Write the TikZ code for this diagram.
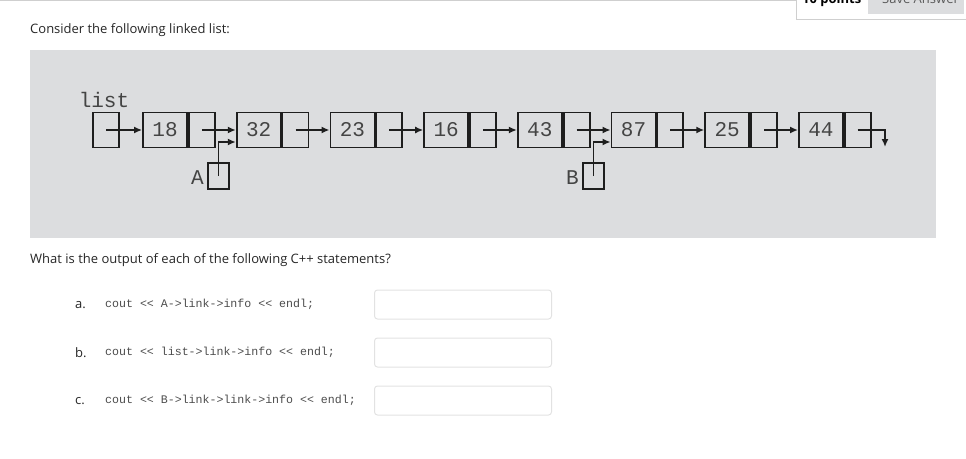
\documentclass[tikz,border=0pt]{standalone}
\usepackage{fontspec}
\setmainfont{Open Sans}
\newfontfamily\diagfont{Liberation Mono}
\usetikzlibrary{arrows.meta,positioning}
\definecolor{panel}{HTML}{DCDDDF}
\definecolor{ink}{HTML}{1E1E1E}
\definecolor{txtgray}{HTML}{444444}
\definecolor{boxline}{HTML}{E2E2E2}
\definecolor{hdrline}{HTML}{CFCFCF}
\tikzset{
  datacell/.style={draw=ink, line width=1.8pt, minimum width=44pt, minimum height=35pt, inner sep=0pt,
    font=\diagfont\fontsize{21}{21}\selectfont, text=txtgray},
  ptrcell/.style={draw=ink, line width=1.8pt, minimum width=26pt, minimum height=35pt, inner sep=0pt},
  smallbox/.style={draw=ink, line width=1.8pt, minimum width=21pt, minimum height=26pt, inner sep=0pt},
  lbl/.style={font=\diagfont\fontsize{21}{21}\selectfont, text=txtgray, inner sep=0pt},
  link/.style={draw=ink, line width=1.6pt, -{Latex[length=8pt,width=7pt]}},
  body/.style={font=\fontsize{13}{15}\selectfont, text=black!85, inner sep=0pt, anchor=west},
  code/.style={font=\diagfont\fontsize{11.6}{13}\selectfont, text=black!70, inner sep=0pt, anchor=west},
  answer/.style={draw=boxline, line width=1pt, rounded corners=3pt, minimum width=177pt, minimum height=29pt, inner sep=0pt}
}
\begin{document}
\begin{tikzpicture}[x=1pt,y=-1pt]
\useasboundingbox (0,0) rectangle (966,458);
\clip (0,0) rectangle (966,458);
% header
\draw[hdrline, line width=1pt] (0,0.5) -- (796,0.5);
\draw[hdrline, line width=1pt] (796,-2) -- (796,19) -- (966,19);
\fill[panel] (868,-2) rectangle (964,14);
\node[font=\bfseries\fontsize{13}{15}\selectfont, anchor=base west, inner sep=0pt] (pts) at (802,3.5) {10 points};
\node[font=\fontsize{13}{15}\selectfont, text=black!65, anchor=base west, inner sep=0pt] (save) at (882,3.5) {Save Answer};
% texts
\node[body] (t1) at (30,30) {Consider the following linked list:};
\fill[panel] (30,50) rectangle (936,238);
\node[body] (t2) at (30,260) {What is the output of each of the following C++ statements?};
% list head
\node[lbl] (listlbl) at (104,100) {list};
\node[ptrcell] (L) at (106,130) {};
% nodes
\foreach \i/\v in {0/18,1/32,2/23,3/16,4/43,5/87,6/25,7/44}{
  \pgfmathsetmacro{\xs}{143+93.7*\i}
  \node[datacell] (d\i) at (\xs+22,130) {\v};
  \node[ptrcell, right=0pt of d\i] (p\i) {};
}
% links
\draw[link] (L.center) -- (d0.west);
\foreach \i/\j in {0/1,1/2,2/3,3/4,4/5,5/6,6/7}{
  \draw[link] (p\i.center) -- (d\j.west);
}
\coordinate (nil) at (885,147);
\draw[link] (p7.center) -| (nil);
% external pointers
\node[smallbox] (A) at (218.5,176) {};
\node[lbl, anchor=east] (Albl) at (204,178) {A};
\draw[link] (A.center) |- ([yshift=-12pt]d1.west);
\node[smallbox] (B) at (593.5,176) {};
\node[lbl, anchor=east] (Blbl) at (579,178) {B};
\draw[link] (B.center) |- ([yshift=-12pt]d5.west);
% questions
\node[body] (qa) at (75,305) {a.};
\node[code] (ca) at (105,304) {cout << A->link->info << endl;};
\node[answer] (ba) at (463,304.5) {};
\node[body] (qb) at (75,353) {b.};
\node[code] (cb) at (105,352) {cout << list->link->info << endl;};
\node[answer] (bb) at (463,352.5) {};
\node[body] (qc) at (75,401) {c.};
\node[code] (cc) at (105,400) {cout << B->link->link->info << endl;};
\node[answer] (bc) at (463,400.5) {};
\end{tikzpicture}
\end{document}
